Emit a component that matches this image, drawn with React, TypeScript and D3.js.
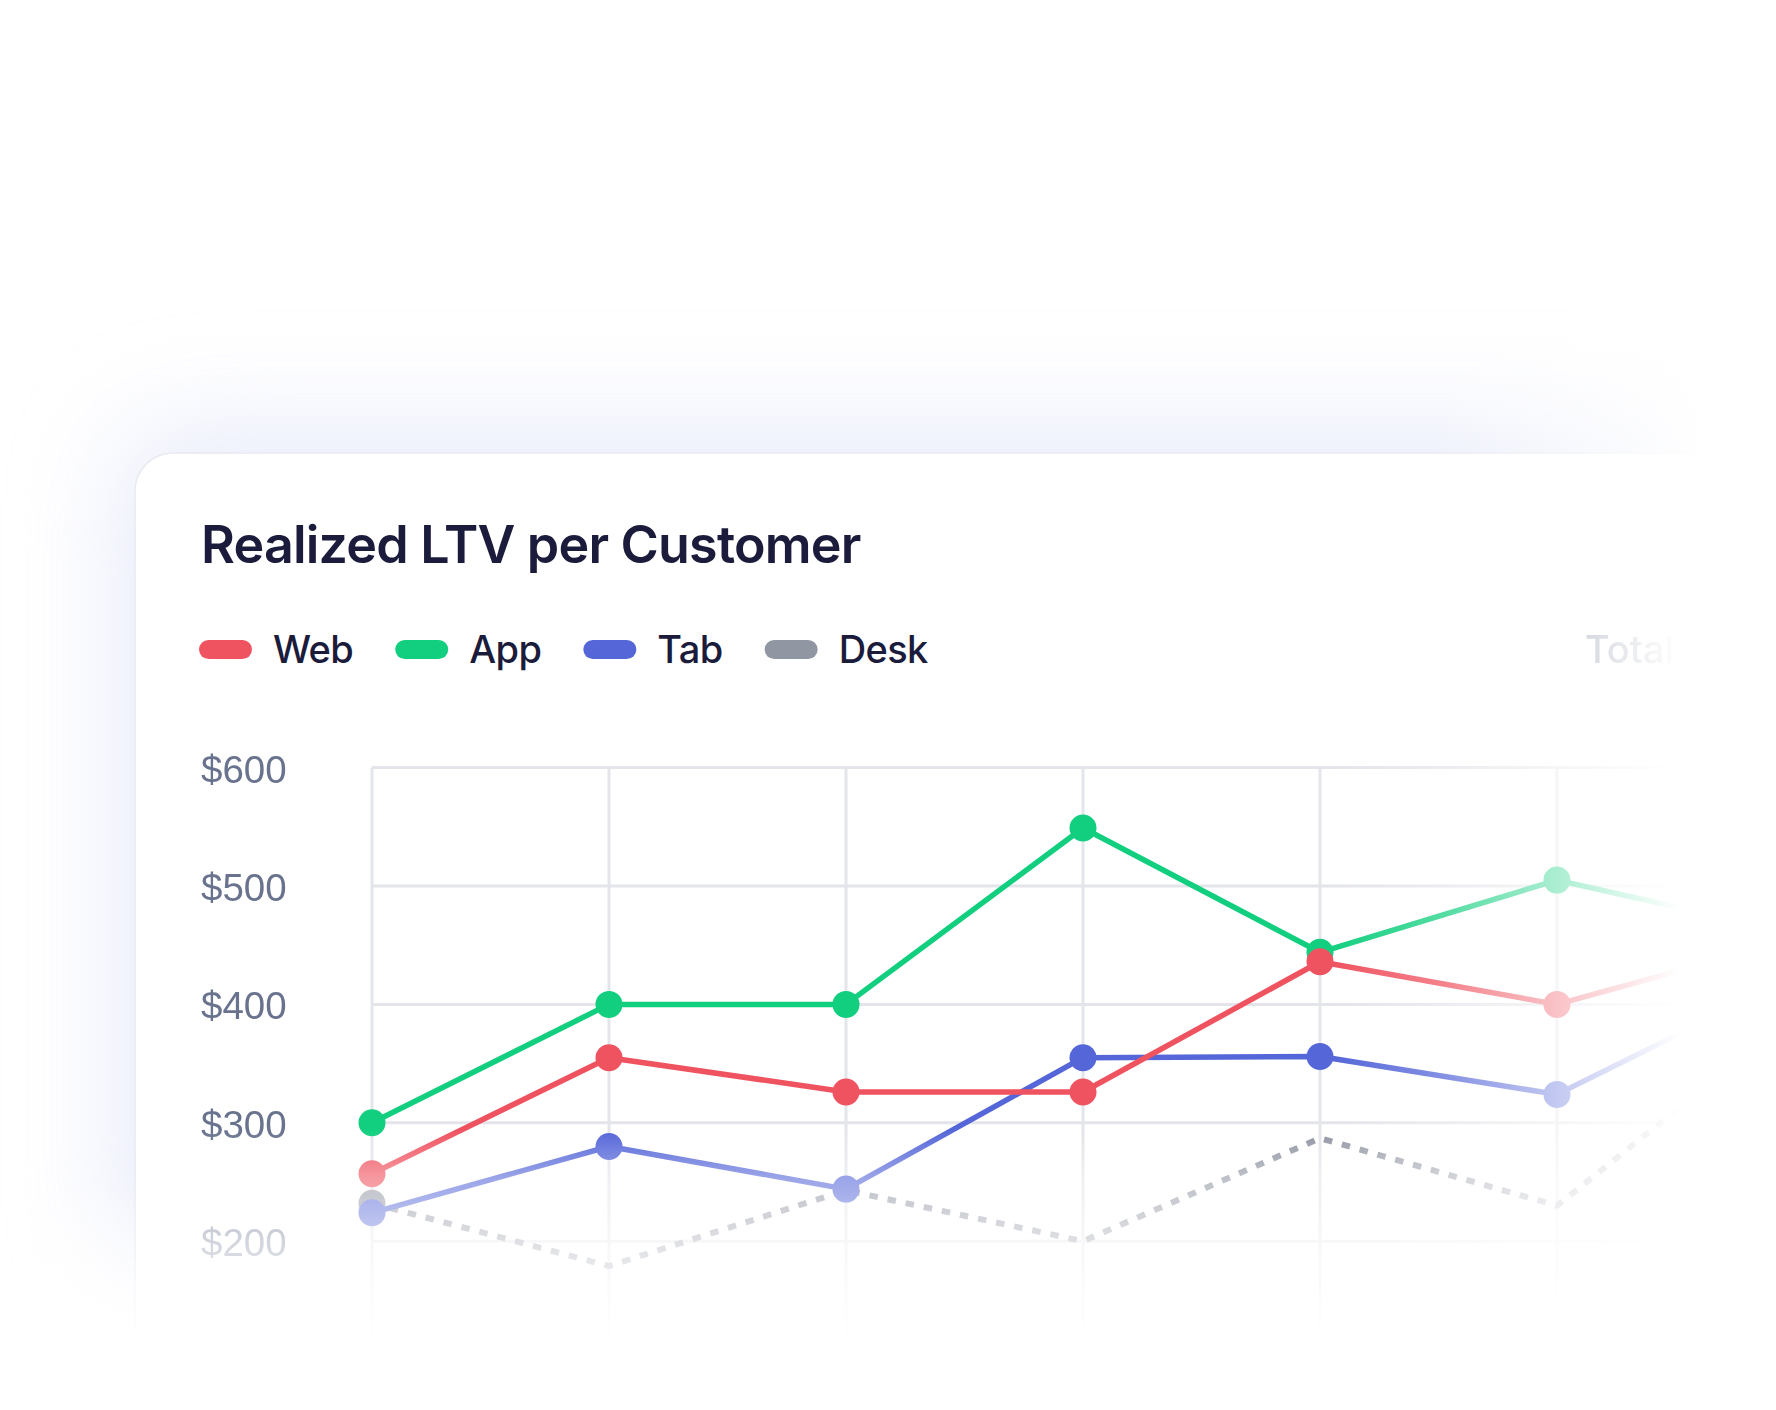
import { useEffect, useRef } from "react"
import * as d3 from "d3"

// chart data
const categories = ["Jan", "Feb", "Mar", "Apr", "May", "Jun", "Jul"]
const webValues = [257, 355, 326, 326, 436, 400, 455]
const appValues = [300, 400, 400, 549, 444, 505, 460]
const tabValues = [224, 280, 244, 355, 356, 324, 423]
const deskValues = [232, 179, 243, 200, 287, 230, 390]
const yTicks = [100, 200, 300, 400, 500, 600]
const legendNames = ["Web", "App", "Tab", "Desk"]
const legendColors = ["#ef5360", "#12cf7f", "#5566d8", "#9196a3"]

const W = 1776
const H = 1410

export default function App() {
  const svgRef = useRef<SVGSVGElement>(null)

  useEffect(() => {
    if (!svgRef.current) return
    const root = d3.select(svgRef.current)
    root.selectAll("*").remove()

    const defs = root.append("defs")

    // soft lavender glow behind the card
    defs
      .append("filter")
      .attr("id", "glow")
      .attr("x", "-50%")
      .attr("y", "-50%")
      .attr("width", "200%")
      .attr("height", "200%")
      .append("feGaussianBlur")
      .attr("stdDeviation", 55)

    const grad = (id: string, x1: number, y1: number, x2: number, y2: number, stops: [number, number][]) => {
      const g = defs
        .append("linearGradient")
        .attr("id", id)
        .attr("gradientUnits", "userSpaceOnUse")
        .attr("x1", x1)
        .attr("y1", y1)
        .attr("x2", x2)
        .attr("y2", y2)
      stops.forEach(([o, a]) => {
        g.append("stop").attr("offset", o).attr("stop-color", "#fff").attr("stop-opacity", a)
      })
    }

    // fades for chart content
    grad("fadeV", 0, 1130, 0, 1345, [[0, 1], [0.22, 0.6], [0.52, 0.3], [0.8, 0.1], [1, 0]])
    grad("fadeH", 1330, 0, 1680, 0, [[0, 1], [0.33, 0.72], [0.65, 0.35], [1, 0]])
    // white overlays for background
    grad("bgFadeB", 0, 1180, 0, 1340, [[0, 0], [1, 1]])
    grad("bgFadeR", 1430, 0, 1710, 0, [[0, 0], [1, 1]])

    const mask = (id: string, fill: string) => {
      defs
        .append("mask")
        .attr("id", id)
        .attr("maskUnits", "userSpaceOnUse")
        .attr("x", 0)
        .attr("y", 0)
        .attr("width", W)
        .attr("height", H)
        .append("rect")
        .attr("width", W)
        .attr("height", H)
        .attr("fill", fill)
    }
    mask("maskV", "url(#fadeV)")
    mask("maskH", "url(#fadeH)")

    // background
    root.append("rect").attr("width", W).attr("height", H).attr("fill", "#ffffff")
    root
      .append("rect")
      .attr("x", 120)
      .attr("y", 430)
      .attr("width", 1800)
      .attr("height", 850)
      .attr("rx", 60)
      .attr("fill", "#e1e5f9")
      .attr("opacity", 0.8)
      .attr("filter", "url(#glow)")

    // card
    root
      .append("rect")
      .attr("x", 135)
      .attr("y", 453)
      .attr("width", 1800)
      .attr("height", 1100)
      .attr("rx", 38)
      .attr("fill", "#ffffff")
      .attr("stroke", "#e8eaf1")
      .attr("stroke-width", 1.5)

    root.append("rect").attr("y", 1180).attr("width", W).attr("height", H - 1180).attr("fill", "url(#bgFadeB)")
    root.append("rect").attr("x", 1430).attr("width", W - 1430).attr("height", H).attr("fill", "url(#bgFadeR)")

    // title
    root
      .append("text")
      .attr("x", 201)
      .attr("y", 563)
      .attr("font-family", "Inter, sans-serif")
      .attr("font-weight", 600)
      .attr("font-size", 52)
      .attr("letter-spacing", -0.8)
      .attr("fill", "#1b1b3b")
      .text("Realized LTV per Customer")

    // legend
    const legend = root.append("g")
    let lx = 199
    legendNames.forEach((name, i) => {
      legend
        .append("rect")
        .attr("x", lx)
        .attr("y", 640)
        .attr("width", 53)
        .attr("height", 19)
        .attr("rx", 9.5)
        .attr("fill", legendColors[i])
      const t = legend
        .append("text")
        .attr("x", lx + 74)
        .attr("y", 663)
        .attr("font-family", "Inter, sans-serif")
        .attr("font-weight", 500)
        .attr("font-size", 38)
        .attr("letter-spacing", -0.6)
        .attr("fill", "#1b1b3b")
        .text(name)
      const tw = (t.node() as SVGTextElement).getComputedTextLength()
      lx += 74 + tw + 42
    })

    // scales
    const x = d3.scalePoint<string>().domain(categories).range([372, 1794])
    const y = d3.scaleLinear().domain([100, 600]).range([1359.6, 767.6])

    const outer = root.append("g").attr("mask", "url(#maskH)")

    outer
      .append("text")
      .attr("x", 1585)
      .attr("y", 663)
      .attr("font-family", "Inter, sans-serif")
      .attr("font-weight", 500)
      .attr("font-size", 38)
      .attr("fill", "#6b7490")
      .text("Total")

    const plot = outer.append("g").attr("mask", "url(#maskV)")

    // grid
    plot
      .append("g")
      .selectAll("line")
      .data(yTicks)
      .join("line")
      .attr("x1", x(categories[0])!)
      .attr("x2", x(categories[categories.length - 1])!)
      .attr("y1", (d) => y(d))
      .attr("y2", (d) => y(d))
      .attr("stroke", "#e4e5ea")
      .attr("stroke-width", 3)

    plot
      .append("g")
      .selectAll("line")
      .data(categories)
      .join("line")
      .attr("x1", (d) => x(d)!)
      .attr("x2", (d) => x(d)!)
      .attr("y1", y(600))
      .attr("y2", y(100))
      .attr("stroke", "#e4e5ea")
      .attr("stroke-width", 3)

    // y labels
    plot
      .append("g")
      .selectAll("text")
      .data(yTicks)
      .join("text")
      .attr("x", 201)
      .attr("y", (d) => y(d) + 15)
      .attr("font-family", "'Liberation Sans', Arial, sans-serif")
      .attr("font-size", 38.5)
      .attr("fill", "#69738e")
      .text((d) => `$${d}`)

    const line = d3
      .line<number>()
      .x((_, i) => x(categories[i])!)
      .y((d) => y(d))

    const drawSeries = (values: number[], color: string, dashed: boolean, dots: number[]) => {
      plot
        .append("path")
        .datum(values)
        .attr("fill", "none")
        .attr("stroke", color)
        .attr("stroke-width", dashed ? 6 : 5.5)
        .attr("stroke-linejoin", "round")
        .attr("stroke-dasharray", dashed ? "8.5 10" : null)
        .attr("d", line)
      plot
        .append("g")
        .selectAll("circle")
        .data(dots)
        .join("circle")
        .attr("cx", (i) => x(categories[i])!)
        .attr("cy", (i) => y(values[i]))
        .attr("r", 13.5)
        .attr("fill", color)
    }

    const all = categories.map((_, i) => i)
    drawSeries(deskValues, legendColors[3], true, [0])
    drawSeries(tabValues, legendColors[2], false, all)
    drawSeries(appValues, legendColors[1], false, all)
    drawSeries(webValues, legendColors[0], false, all)
  }, [])

  return (
    <>
      <style>{`body{margin:0}`}</style>
      <svg ref={svgRef} width={W} height={H} style={{ display: "block" }}></svg>
    </>
  )
}
